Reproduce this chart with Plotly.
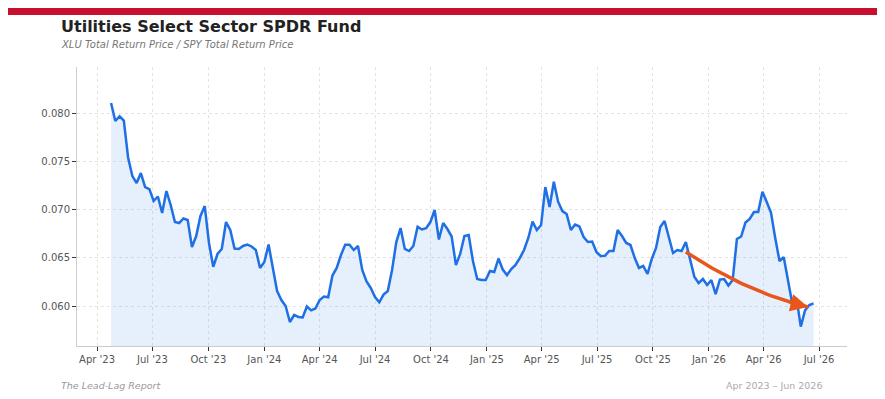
import pandas as pd
import numpy as np
import plotly.graph_objects as go

# ---- data (weekly) ----
start_date = "2023-04-24"
ratio = [
    0.08104, 0.07917, 0.07966, 0.07922, 0.07539, 0.07347, 0.07275, 0.07378, 0.07233, 0.07212,
    0.07088, 0.07135, 0.06964, 0.07192, 0.07047, 0.06870, 0.06860, 0.06907, 0.06891, 0.06611,
    0.06725, 0.06933, 0.07036, 0.06653, 0.06407, 0.06539, 0.06591, 0.06870, 0.06788, 0.06596,
    0.06591, 0.06622, 0.06637, 0.06617, 0.06580, 0.06394, 0.06456, 0.06637, 0.06394, 0.06155,
    0.06062, 0.06000, 0.05834, 0.05907, 0.05886, 0.05881, 0.05995, 0.05955, 0.05974, 0.06062,
    0.06098, 0.06090, 0.06316, 0.06394, 0.06528, 0.06634, 0.06634, 0.06580, 0.06622, 0.06373,
    0.06254, 0.06187, 0.06093, 0.06038, 0.06118, 0.06155, 0.06373, 0.06663, 0.06808, 0.06591,
    0.06570, 0.06622, 0.06822, 0.06793, 0.06806, 0.06870, 0.06995, 0.06689, 0.06860, 0.06798,
    0.06720, 0.06425, 0.06539, 0.06725, 0.06736, 0.06466, 0.06280, 0.06269, 0.06269, 0.06363,
    0.06352, 0.06492, 0.06378, 0.06321, 0.06383, 0.06425, 0.06497, 0.06580, 0.06705, 0.06874,
    0.06788, 0.06839, 0.07233, 0.07026, 0.07288, 0.07081, 0.06984, 0.06953, 0.06788, 0.06845,
    0.06824, 0.06715, 0.06663, 0.06668, 0.06560, 0.06518, 0.06521, 0.06570, 0.06570, 0.06788,
    0.06725, 0.06653, 0.06632, 0.06497, 0.06394, 0.06415, 0.06332, 0.06487, 0.06601, 0.06819,
    0.06881, 0.06715, 0.06549, 0.06580, 0.06570, 0.06663, 0.06477, 0.06304, 0.06238, 0.06280,
    0.06218, 0.06269, 0.06124, 0.06274, 0.06280, 0.06212, 0.06269, 0.06694, 0.06720, 0.06865,
    0.06902, 0.06974, 0.06974, 0.07184, 0.07078, 0.06969, 0.06705, 0.06466, 0.06505, 0.06259,
    0.06026, 0.06080, 0.05786, 0.05955, 0.06010, 0.06028,
]
dates = pd.date_range(start_date, periods=len(ratio), freq="7D")

# trend arrow (annotation): start, control, end
arrow_dates = ["2025-11-24", "2026-03-05", "2026-06-13"]
arrow_vals = [0.06560, 0.06140, 0.05990]

y_ticks = [0.060, 0.065, 0.070, 0.075, 0.080]

title = "Utilities Select Sector SPDR Fund"
subtitle = "XLU Total Return Price / SPY Total Return Price"
footer_left = "The Lead-Lag Report"
footer_right = "Apr 2023 – Jun 2026"

BLUE = "#1f6fe5"
ORANGE = "#e8561c"
FONT = "DejaVu Sans"

fig = go.Figure()
fig.add_trace(go.Scatter(
    x=dates, y=ratio, mode="lines",
    line=dict(color=BLUE, width=2.5),
    fill="tozeroy", fillcolor="rgba(31,111,229,0.11)",
    hoverinfo="skip", showlegend=False,
))

# curved trend arrow (quadratic bezier through control point)
ad = pd.to_datetime(arrow_dates).astype("int64").to_numpy().astype(float)
av = np.array(arrow_vals)
t = np.linspace(0, 1, 40)
bx = (1 - t) ** 2 * ad[0] + 2 * (1 - t) * t * ad[1] + t ** 2 * ad[2]
by = (1 - t) ** 2 * av[0] + 2 * (1 - t) * t * av[1] + t ** 2 * av[2]
fig.add_trace(go.Scatter(
    x=pd.to_datetime(bx.astype("int64")), y=by, mode="lines",
    line=dict(color=ORANGE, width=3.5), hoverinfo="skip", showlegend=False,
))
fig.add_annotation(
    x=arrow_dates[2], y=arrow_vals[2], xref="x", yref="y",
    ax=-20, ay=-5, axref="pixel", ayref="pixel",
    showarrow=True, arrowhead=2, arrowsize=1.1, arrowwidth=3.2,
    arrowcolor=ORANGE, text="", standoff=0,
)

fig.update_layout(
    width=885, height=399,
    margin=dict(l=77, r=38, t=67, b=53),
    paper_bgcolor="white", plot_bgcolor="white",
    font=dict(family=FONT, size=10, color="#555"),
    showlegend=False,
    xaxis=dict(
        type="date",
        range=["2023-02-27", "2026-08-16"],
        tick0="2023-04-01", dtick="M3", tickformat="%b '%y",
        showgrid=True, gridcolor="#e4e4e4", griddash="dot", gridwidth=1,
        showline=True, linecolor="#cccccc", linewidth=1,
        ticks="outside", ticklen=4, tickcolor="#333", tickwidth=1,
        tickfont=dict(family=FONT, size=10, color="#555"),
        zeroline=False,
    ),
    yaxis=dict(
        range=[0.055855, 0.08477],
        tickvals=y_ticks, tickformat=".3f",
        showgrid=True, gridcolor="#e4e4e4", griddash="dot", gridwidth=1,
        showline=True, linecolor="#cccccc", linewidth=1,
        ticks="outside", ticklen=4, tickcolor="#333", tickwidth=1,
        tickfont=dict(family=FONT, size=10, color="#555"),
        zeroline=False,
    ),
)

# red top band
fig.add_shape(type="rect", xref="paper", yref="paper",
              x0=-0.0896, x1=1.039, y0=1.1864, y1=1.2115,
              fillcolor="#c8102e", line=dict(width=0), layer="above")

fig.add_annotation(text=f"<b>{title}</b>", xref="paper", yref="paper",
                   x=-0.0234, y=1.1434, xanchor="left", yanchor="middle",
                   showarrow=False, font=dict(family=FONT, size=16, color="#222"))
fig.add_annotation(text=f"<i>{subtitle}</i>", xref="paper", yref="paper",
                   x=-0.0234, y=1.0806, xanchor="left", yanchor="middle",
                   showarrow=False, font=dict(family=FONT, size=10, color="#777"))
fig.add_annotation(text=f"<i>{footer_left}</i>", xref="paper", yref="paper",
                   x=-0.0234, y=-0.1398, xanchor="left", yanchor="middle",
                   showarrow=False, font=dict(family=FONT, size=9.5, color="#999"))
fig.add_annotation(text=footer_right, xref="paper", yref="paper",
                   x=0.970, y=-0.1398, xanchor="right", yanchor="middle",
                   showarrow=False, font=dict(family=FONT, size=9.5, color="#aaa"))

fig.write_html("out.html")
